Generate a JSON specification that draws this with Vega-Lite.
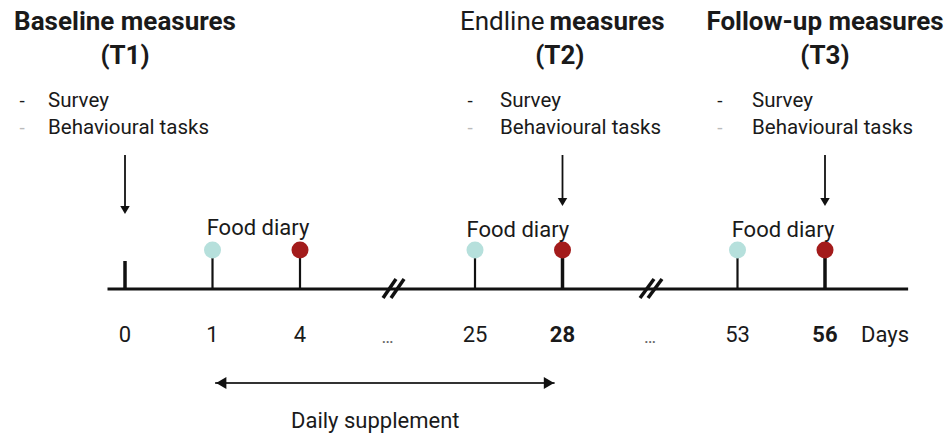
{
  "$schema": "https://vega.github.io/schema/vega-lite/v6.json",
  "width": 950,
  "height": 438,
  "padding": 0,
  "autosize": {"type": "fit", "contains": "padding"},
  "background": "white",
  "config": {"view": {"stroke": null}, "text": {"font": "Roboto", "color": "#1a1a1a"}},
  "encoding": {
    "x": {"field": "s", "type": "quantitative", "axis": null, "scale": {"domain": [-1.4286, 9.4286], "nice": false, "zero": false}},
    "y": {"field": "y", "type": "quantitative", "axis": null, "scale": {"domain": [0, 438], "reverse": true, "nice": false, "zero": false}}
  },
  "layer": [
    {
      "data": {"values": [{"s": -0.2, "s2": 8.95, "y": 289}]},
      "mark": {"type": "rule", "strokeWidth": 3, "color": "#111111"},
      "encoding": {"x2": {"field": "s2"}}
    },
    {
      "data": {"values": [
        {"s": 2.949, "s2": 3.097, "y": 298, "y2": 279},
        {"s": 3.04, "s2": 3.189, "y": 298, "y2": 279},
        {"s": 5.886, "s2": 6.046, "y": 298, "y2": 279},
        {"s": 5.977, "s2": 6.137, "y": 298, "y2": 279}
      ]},
      "mark": {"type": "rule", "strokeWidth": 3.5, "color": "#111111"},
      "encoding": {"x2": {"field": "s2"}, "y2": {"field": "y2"}}
    },
    {
      "data": {"values": [
        {"s": 0, "y": 261, "y2": 289},
        {"s": 5, "y": 258, "y2": 289},
        {"s": 8, "y": 258, "y2": 289}
      ]},
      "mark": {"type": "rule", "strokeWidth": 3.5, "color": "#111111"},
      "encoding": {"y2": {"field": "y2"}}
    },
    {
      "data": {"values": [
        {"s": 1, "y": 258, "y2": 289},
        {"s": 2, "y": 258, "y2": 289},
        {"s": 4, "y": 258, "y2": 289},
        {"s": 7, "y": 258, "y2": 289}
      ]},
      "mark": {"type": "rule", "strokeWidth": 2.2, "color": "#111111"},
      "encoding": {"y2": {"field": "y2"}}
    },
    {
      "data": {"values": [
        {"s": 1, "y": 250, "kind": "start"},
        {"s": 2, "y": 250, "kind": "end"},
        {"s": 4, "y": 250, "kind": "start"},
        {"s": 5, "y": 250, "kind": "end"},
        {"s": 7, "y": 250, "kind": "start"},
        {"s": 8, "y": 250, "kind": "end"}
      ]},
      "mark": {"type": "point", "shape": "circle", "filled": true, "opacity": 1, "size": 290},
      "encoding": {"color": {"field": "kind", "type": "nominal", "legend": null, "scale": {"domain": ["start", "end"], "range": ["#b6e0dc", "#a31b1b"]}}}
    },
    {
      "data": {"values": [
        {"s": 0, "y": 155, "y2": 208},
        {"s": 5, "y": 155, "y2": 200},
        {"s": 8, "y": 155, "y2": 200}
      ]},
      "mark": {"type": "rule", "strokeWidth": 1.8, "color": "#111111"},
      "encoding": {"y2": {"field": "y2"}}
    },
    {
      "data": {"values": [
        {"s": 0, "y": 210},
        {"s": 5, "y": 202},
        {"s": 8, "y": 202}
      ]},
      "mark": {"type": "point", "shape": "triangle-down", "filled": true, "opacity": 1, "size": 90, "color": "#111111"}
    },
    {
      "data": {"values": [{"s": 1.03, "s2": 4.91, "y": 383}]},
      "mark": {"type": "rule", "strokeWidth": 2.2, "color": "#333333"},
      "encoding": {"x2": {"field": "s2"}}
    },
    {
      "data": {"values": [{"s": 1.1, "y": 383}]},
      "mark": {"type": "point", "shape": "triangle-left", "filled": true, "opacity": 1, "size": 140, "color": "#111111"}
    },
    {
      "data": {"values": [{"s": 4.845, "y": 383}]},
      "mark": {"type": "point", "shape": "triangle-right", "filled": true, "opacity": 1, "size": 140, "color": "#111111"}
    },
    {
      "data": {"values": [
        {"s": 0, "y": 22, "label": "Baseline measures"},
        {"s": 0, "y": 56, "label": "(T1)"},
        {"s": 4.97, "y": 56, "label": "(T2)"},
        {"s": 8.0, "y": 22, "label": "Follow-up measures"},
        {"s": 8.0, "y": 56, "label": "(T3)"}
      ]},
      "mark": {"type": "text", "fontSize": 26, "fontWeight": "bold", "align": "center", "baseline": "middle"},
      "encoding": {"text": {"field": "label"}}
    },
    {
      "data": {"values": [{"s": 4.795, "y": 22, "label": "Endline"}]},
      "mark": {"type": "text", "fontSize": 26, "align": "right", "baseline": "middle"},
      "encoding": {"text": {"field": "label"}}
    },
    {
      "data": {"values": [{"s": 4.852, "y": 22, "label": "measures"}]},
      "mark": {"type": "text", "fontSize": 26, "fontWeight": "bold", "align": "left", "baseline": "middle"},
      "encoding": {"text": {"field": "label"}}
    },
    {
      "data": {"values": [
        {"s": -1.177, "y": 101, "label": "-"},
        {"s": 3.943, "y": 101, "label": "-"},
        {"s": 6.8, "y": 101, "label": "-"}
      ]},
      "mark": {"type": "text", "fontSize": 19, "align": "center", "baseline": "middle"},
      "encoding": {"text": {"field": "label"}}
    },
    {
      "data": {"values": [
        {"s": -1.177, "y": 128, "label": "-"},
        {"s": 3.943, "y": 128, "label": "-"},
        {"s": 6.8, "y": 128, "label": "-"}
      ]},
      "mark": {"type": "text", "fontSize": 19, "align": "center", "baseline": "middle", "color": "#bbbbbb"},
      "encoding": {"text": {"field": "label"}}
    },
    {
      "data": {"values": [
        {"s": -0.88, "y": 101, "label": "Survey"},
        {"s": -0.88, "y": 128, "label": "Behavioural tasks"},
        {"s": 4.286, "y": 101, "label": "Survey"},
        {"s": 4.286, "y": 128, "label": "Behavioural tasks"},
        {"s": 7.166, "y": 101, "label": "Survey"},
        {"s": 7.166, "y": 128, "label": "Behavioural tasks"}
      ]},
      "mark": {"type": "text", "fontSize": 20.5, "align": "left", "baseline": "middle"},
      "encoding": {"text": {"field": "label"}}
    },
    {
      "data": {"values": [
        {"s": 1.52, "y": 228, "label": "Food diary"},
        {"s": 4.49, "y": 230, "label": "Food diary"},
        {"s": 7.52, "y": 230, "label": "Food diary"}
      ]},
      "mark": {"type": "text", "fontSize": 22, "align": "center", "baseline": "middle"},
      "encoding": {"text": {"field": "label"}}
    },
    {
      "data": {"values": [
        {"s": 0, "y": 335, "label": "0"},
        {"s": 1, "y": 335, "label": "1"},
        {"s": 2, "y": 335, "label": "4"},
        {"s": 4, "y": 335, "label": "25"},
        {"s": 7, "y": 335, "label": "53"},
        {"s": 8.686, "y": 335, "label": "Days"}
      ]},
      "mark": {"type": "text", "fontSize": 22, "align": "center", "baseline": "middle"},
      "encoding": {"text": {"field": "label"}}
    },
    {
      "data": {"values": [
        {"s": 5, "y": 335, "label": "28"},
        {"s": 8, "y": 335, "label": "56"}
      ]},
      "mark": {"type": "text", "fontSize": 22, "fontWeight": "bold", "align": "center", "baseline": "middle"},
      "encoding": {"text": {"field": "label"}}
    },
    {
      "data": {"values": [
        {"s": 3, "y": 338, "label": "…"},
        {"s": 6, "y": 338, "label": "…"}
      ]},
      "mark": {"type": "text", "fontSize": 18, "align": "center", "baseline": "middle", "color": "#666666"},
      "encoding": {"text": {"field": "label"}}
    },
    {
      "data": {"values": [{"s": 2.86, "y": 421, "label": "Daily supplement"}]},
      "mark": {"type": "text", "fontSize": 22, "align": "center", "baseline": "middle"},
      "encoding": {"text": {"field": "label"}}
    }
  ]
}
